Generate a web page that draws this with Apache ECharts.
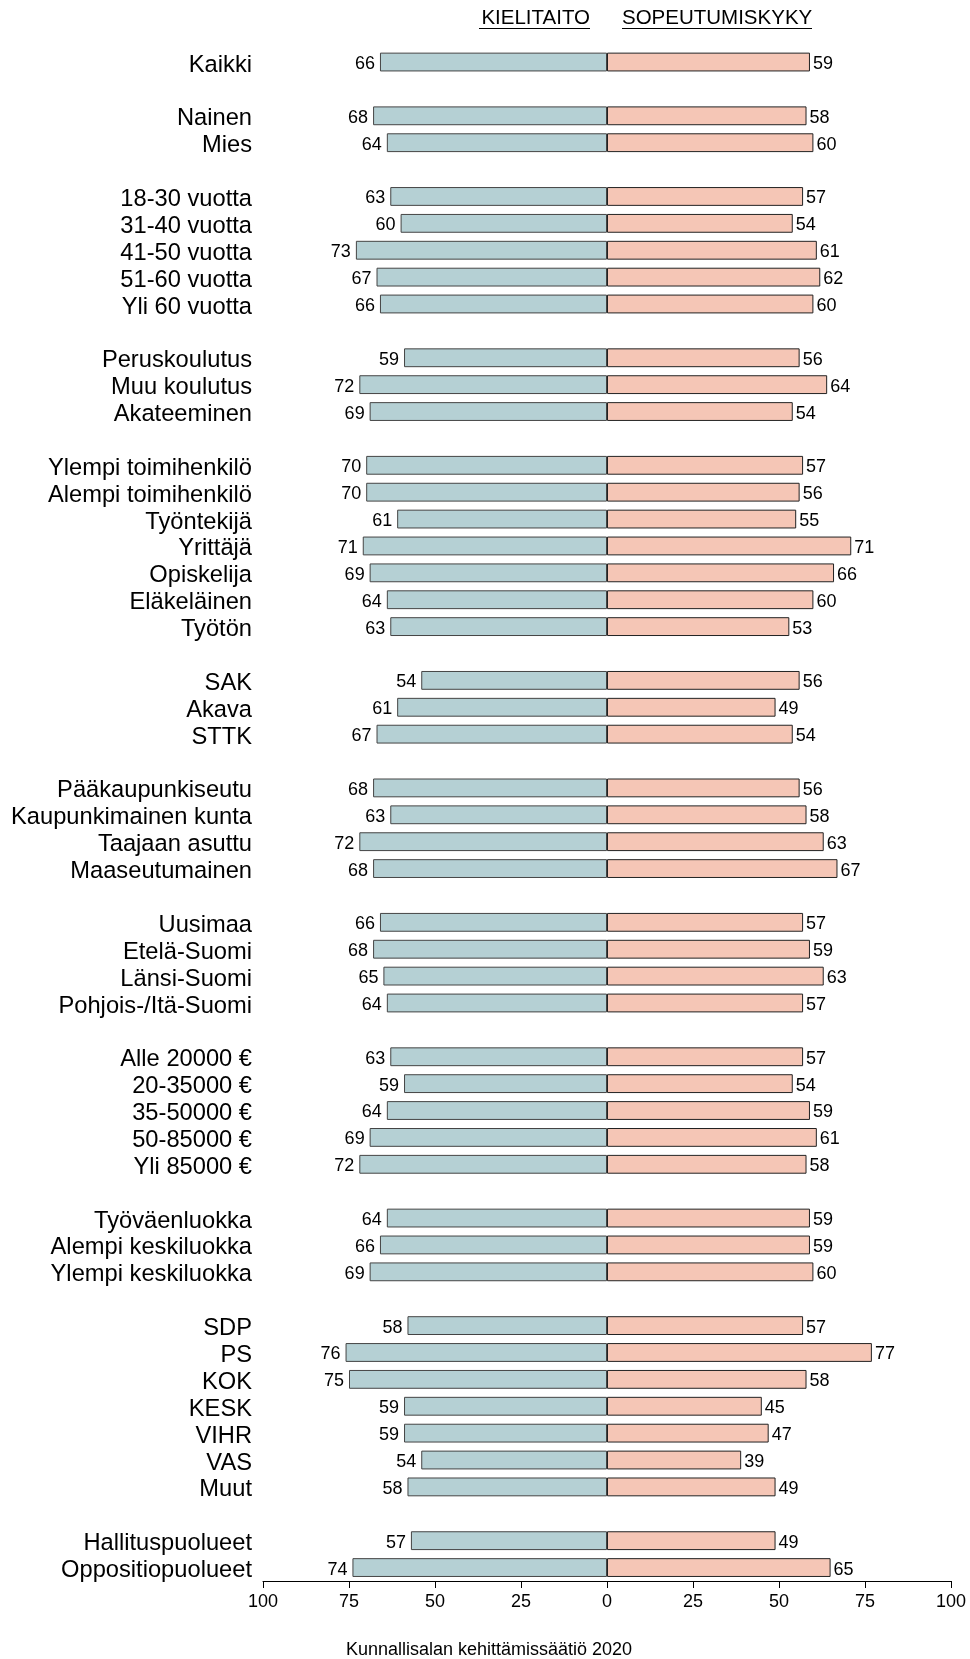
<!DOCTYPE html>
<html>
<head>
<meta charset="utf-8">
<script src="https://cdn.jsdelivr.net/npm/echarts@6/dist/echarts.min.js"></script>
<style>
html,body{margin:0;padding:0;background:#fff;}
#chart{width:970px;height:1659px;}
</style>
</head>
<body>
<div id="chart"></div>
<script>
// Categories ('' = blank spacer row between groups)
var categories = [
  'Kaikki', '',
  'Nainen', 'Mies', '',
  '18-30 vuotta', '31-40 vuotta', '41-50 vuotta', '51-60 vuotta', 'Yli 60 vuotta', '',
  'Peruskoulutus', 'Muu koulutus', 'Akateeminen', '',
  'Ylempi toimihenkilö', 'Alempi toimihenkilö', 'Työntekijä', 'Yrittäjä', 'Opiskelija', 'Eläkeläinen', 'Työtön', '',
  'SAK', 'Akava', 'STTK', '',
  'Pääkaupunkiseutu', 'Kaupunkimainen kunta', 'Taajaan asuttu', 'Maaseutumainen', '',
  'Uusimaa', 'Etelä-Suomi', 'Länsi-Suomi', 'Pohjois-/Itä-Suomi', '',
  'Alle 20000 €', '20-35000 €', '35-50000 €', '50-85000 €', 'Yli 85000 €', '',
  'Työväenluokka', 'Alempi keskiluokka', 'Ylempi keskiluokka', '',
  'SDP', 'PS', 'KOK', 'KESK', 'VIHR', 'VAS', 'Muut', '',
  'Hallituspuolueet', 'Oppositiopuolueet'
];
// KIELITAITO (left side)
var kielitaito = [
  66, null,
  68, 64, null,
  63, 60, 73, 67, 66, null,
  59, 72, 69, null,
  70, 70, 61, 71, 69, 64, 63, null,
  54, 61, 67, null,
  68, 63, 72, 68, null,
  66, 68, 65, 64, null,
  63, 59, 64, 69, 72, null,
  64, 66, 69, null,
  58, 76, 75, 59, 59, 54, 58, null,
  57, 74
];
// SOPEUTUMISKYKY (right side)
var sopeutumiskyky = [
  59, null,
  58, 60, null,
  57, 54, 61, 62, 60, null,
  56, 64, 54, null,
  57, 56, 55, 71, 66, 60, 53, null,
  56, 49, 54, null,
  56, 58, 63, 67, null,
  57, 59, 63, 57, null,
  57, 54, 59, 61, 58, null,
  59, 59, 60, null,
  57, 77, 58, 45, 47, 39, 49, null,
  49, 65
];
var xTicks = [100, 75, 50, 25, 0, 25, 50, 75, 100];
var leftTitle = 'KIELITAITO';
var rightTitle = 'SOPEUTUMISKYKY';
var footer = 'Kunnallisalan kehittämissäätiö 2020';

var FONT = 'Liberation Sans, Arial, sans-serif';
var chart = echarts.init(document.getElementById('chart'), null, {renderer: 'canvas'});

var leftData = kielitaito.map(function (v) { return v == null ? null : -v; });

var option = {
  animation: false,
  backgroundColor: '#ffffff',
  textStyle: {fontFamily: FONT},
  grid: {left: 263, right: 19, top: 48.6, bottom: 78, containLabel: false},
  xAxis: {
    type: 'value',
    min: -100, max: 100, interval: 25,
    axisLine: {show: true, lineStyle: {color: '#000', width: 1}},
    axisTick: {show: true, length: 7, lineStyle: {color: '#000', width: 1}},
    axisLabel: {
      color: '#000', fontSize: 18, fontFamily: FONT, margin: 12,
      formatter: function (v) { return String(Math.abs(v)); }
    },
    splitLine: {show: false}
  },
  yAxis: {
    type: 'category',
    inverse: true,
    data: categories,
    axisLine: {show: false},
    axisTick: {show: false},
    axisLabel: {
      color: '#000', fontSize: 23.7, fontFamily: FONT, margin: 11, interval: 0,
      formatter: function (v) { return v ? '{t|' + v + '}' : ''; },
      rich: {t: {fontSize: 23.7, fontFamily: FONT, color: '#000', padding: [6, 0, 0, 0]}}
    }
  },
  series: [
    {
      name: leftTitle, type: 'bar', stack: 'all', barWidth: '70%',
      data: leftData,
      itemStyle: {color: '#b5d0d4', borderColor: '#444', borderWidth: 1},
      label: {
        show: true, position: 'left', distance: 5, color: '#000', fontSize: 18, fontFamily: FONT,
        offset: [0, 2],
        formatter: function (p) { return String(Math.abs(p.value)); }
      }
    },
    {
      name: rightTitle, type: 'bar', stack: 'all', barWidth: '70%',
      data: sopeutumiskyky,
      itemStyle: {color: '#f5c6b6', borderColor: '#222', borderWidth: 1},
      label: {
        show: true, position: 'right', distance: 3, color: '#000', fontSize: 18, fontFamily: FONT,
        offset: [0, 2],
        formatter: function (p) { return String(p.value); }
      }
    }
  ],
  graphic: [
    {type: 'text', x: 590, y: 18, style: {text: leftTitle, fontSize: 20.5, fontFamily: FONT, fill: '#000', align: 'right', verticalAlign: 'middle'}},
    {type: 'line', shape: {x1: 479, y1: 28.5, x2: 590, y2: 28.5}, style: {stroke: '#000', lineWidth: 1}},
    {type: 'text', x: 622, y: 18, style: {text: rightTitle, fontSize: 20.5, fontFamily: FONT, fill: '#000', align: 'left', verticalAlign: 'middle'}},
    {type: 'line', shape: {x1: 622, y1: 28.5, x2: 812, y2: 28.5}, style: {stroke: '#000', lineWidth: 1}},
    {type: 'text', x: 489, y: 1650, style: {text: footer, fontSize: 18, fontFamily: FONT, fill: '#000', align: 'center', verticalAlign: 'middle'}}
  ]
};
chart.setOption(option);
</script>
</body>
</html>
